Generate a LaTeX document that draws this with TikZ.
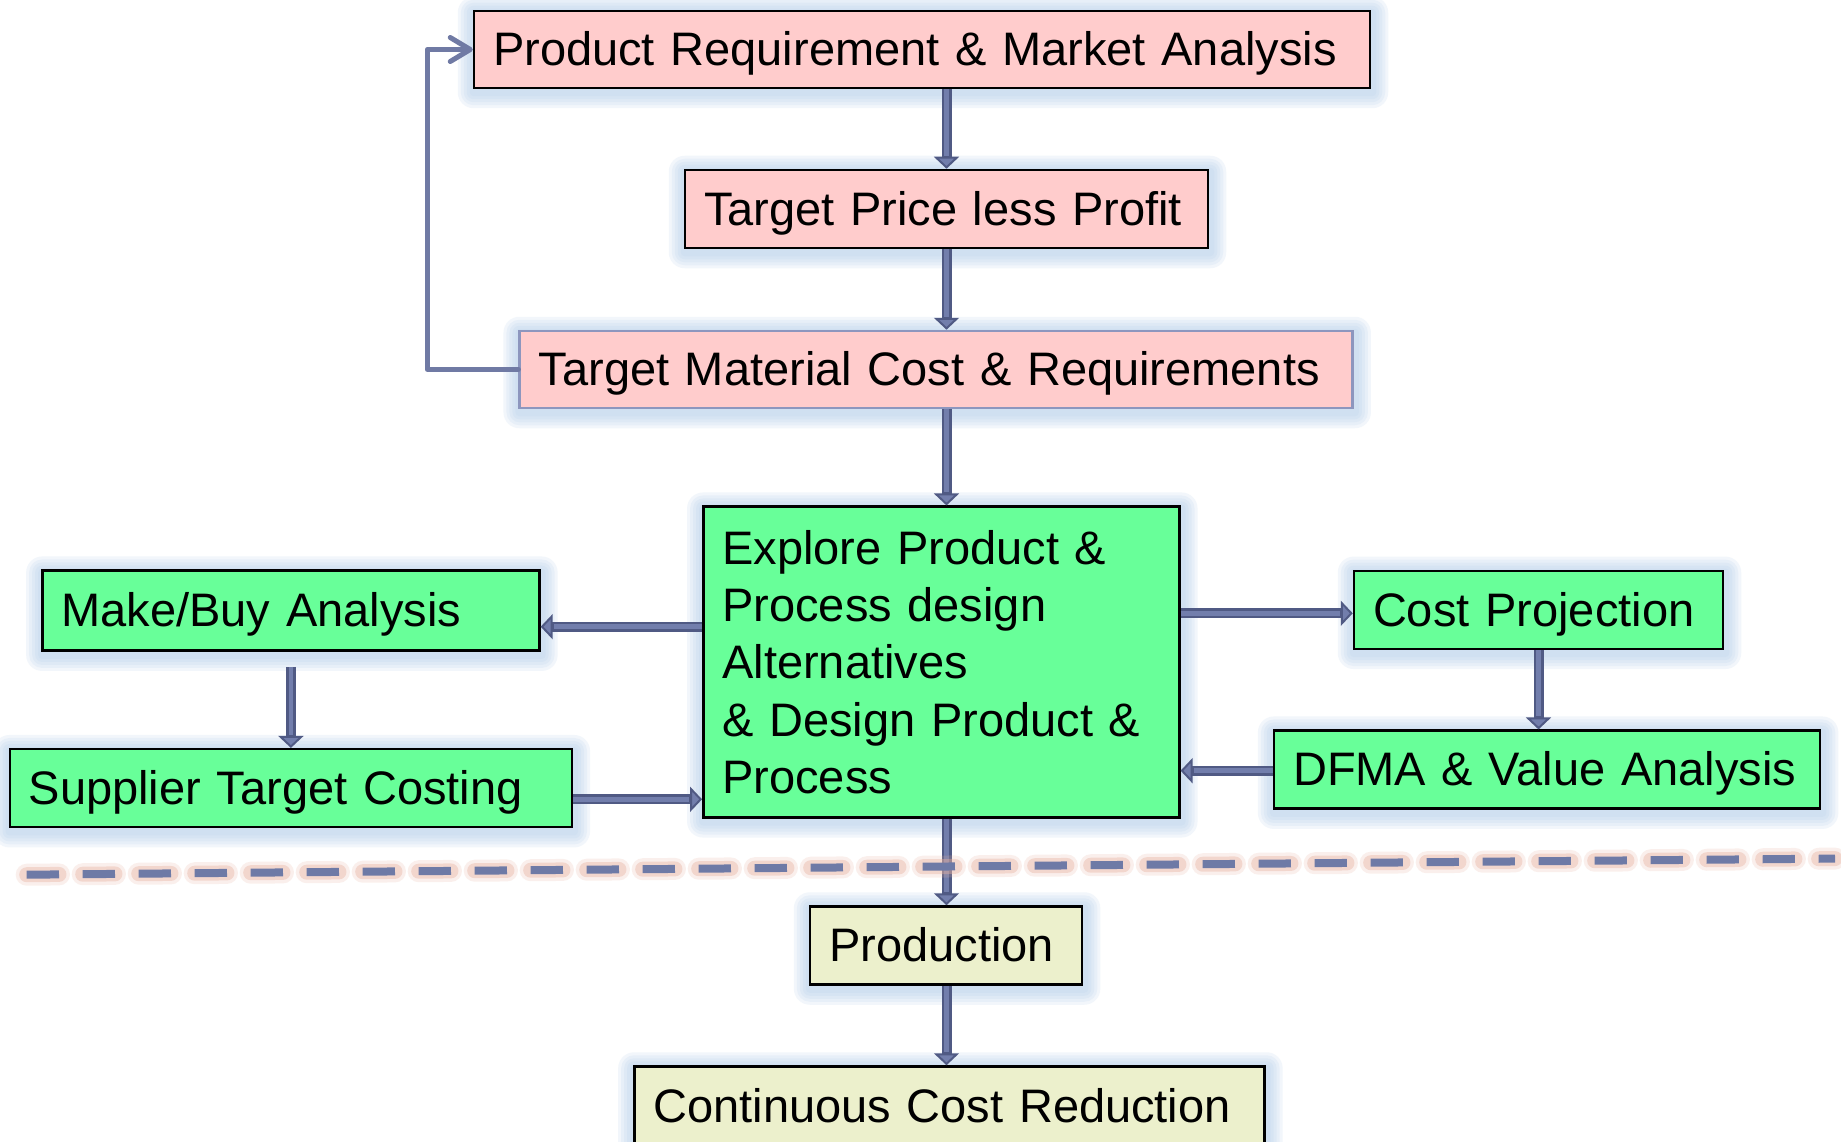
\documentclass[tikz,border=0pt]{standalone}
\usepackage{fontspec}
\setmainfont{Liberation Sans}
\usetikzlibrary{arrows.meta}

\definecolor{pinkfill}{RGB}{255,204,204}
\definecolor{greenfill}{RGB}{104,255,153}
\definecolor{creamfill}{RGB}{236,240,204}
\definecolor{softline}{RGB}{141,150,190}
\definecolor{arrowdark}{RGB}{80,90,132}
\definecolor{arrowlight}{RGB}{114,126,172}
\definecolor{loopline}{RGB}{112,122,164}
\definecolor{halo}{RGB}{180,206,234}
\definecolor{dashcore}{RGB}{110,122,166}
\definecolor{dashglow}{RGB}{232,178,160}

\pgfdeclarelayer{halo layer}
\pgfsetlayers{halo layer,main}

% soft light-blue glow behind a box
\newcommand\haloaround[1]{%
  \foreach \g in {16,13,10,7,4}{%
    \fill[halo, opacity=0.17, rounded corners=\g pt]
      ([xshift={(1-\g)*1pt}, yshift={(-3-\g)*1pt}]#1.south west) rectangle
      ([xshift={(1+\g)*1pt}, yshift={(\g-3)*1pt}]#1.north east);
  }%
}

\tikzset{
  stage/.style={draw=black, line width=2.5pt, inner xsep=19pt, inner ysep=0pt,
    align=left, font=\fontsize{47}{57.4}\selectfont},
  oneline/.style={text height=42.5pt, text depth=10pt},
  planbox/.style={stage, oneline, fill=pinkfill},
  designbox/.style={stage, fill=greenfill},
  prodbox/.style={stage, oneline, fill=creamfill},
  flow/.style={draw=arrowdark, line width=10pt,
    -{Triangle[length=12pt, width=25pt, line width=2pt, fill=arrowlight]},
    postaction={draw=arrowlight, line width=4.5pt, -, shorten >=13pt}},
  feedback/.style={draw=loopline, line width=5pt, line join=round, line cap=round,
    -{Straight Barb[length=20pt, width=24pt, round]}},
}

\begin{document}
\begin{tikzpicture}[x=1pt, y=-1pt]
  \useasboundingbox (0,0) rectangle (1841,1142);

  % planning chain
  \node[planbox, minimum width=896pt, minimum height=77pt, text width=858pt]
    (req) at (922,49.5) {\mbox{Product Requirement \& Market Analysis}};
  \node[planbox, minimum width=523pt, minimum height=78pt, text width=485pt]
    (price) at (946.5,209) {\mbox{Target Price less Profit}};
  \node[planbox, draw=softline, minimum width=833pt, minimum height=77pt, text width=795pt]
    (mat) at (936.2,369.5) {\mbox{Target Material Cost \& Requirements}};

  % design stage
  \node[designbox, minimum width=476pt, minimum height=310.6pt, text width=438pt]
    (explore) at (941.3,662) {Explore Product \&\\Process design\\Alternatives\\\& Design Product \&\\Process};
  \node[designbox, oneline, minimum width=497pt, minimum height=80pt, text width=459pt]
    (make) at (290.9,610.7) {\mbox{Make/Buy Analysis}};
  \node[designbox, oneline, minimum width=562pt, minimum height=78pt, text width=524pt]
    (supp) at (290.8,788.2) {\mbox{Supplier Target Costing}};
  \node[designbox, oneline, minimum width=369pt, minimum height=78pt, text width=331pt]
    (cost) at (1538.5,609.8) {\mbox{Cost Projection}};
  \node[designbox, oneline, minimum width=546pt, minimum height=78pt, text width=508pt]
    (dfma) at (1547.1,769.7) {\mbox{DFMA \& Value Analysis}};

  % production stage
  \node[prodbox, minimum width=272pt, minimum height=78pt, text width=234pt]
    (prod) at (946.1,945.5) {\mbox{Production}};
  \node[prodbox, minimum width=630pt, minimum height=80pt, text width=592pt]
    (ccr) at (949.4,1106.5) {\mbox{Continuous Cost Reduction}};

  \begin{pgfonlayer}{halo layer}
    \fill[white] (0,0) rectangle (1841,1142);
    \foreach \n in {req,price,mat,explore,make,supp,cost,dfma,prod,ccr}{\haloaround{\n}}
  \end{pgfonlayer}

  % connectors
  \coordinate (spine) at (946.5,0);
  \draw[flow] (req.south -| spine) -- (price.north -| spine);
  \draw[flow] (price.south -| spine) -- (mat.north -| spine);
  \draw[flow] (mat.south -| spine) -- (explore.north -| spine);
  \draw[flow] (explore.south -| spine) -- (prod.north -| spine);
  \draw[flow] (prod.south -| spine) -- (ccr.north -| spine);

  \coordinate (rowA) at (0,626.7);
  \coordinate (rowB) at (0,799.3);
  \coordinate (rowC) at (0,613.3);
  \coordinate (rowD) at (0,770.7);
  \draw[flow] (explore.west |- rowA) -- (make.east |- rowA);
  \draw[flow, shorten <=15pt] (make.south) -- (supp.north -| make.south);
  \draw[flow] (supp.east |- rowB) -- (explore.west |- rowB);
  \draw[flow] (explore.east |- rowC) -- (cost.west |- rowC);
  \draw[flow] (cost.south) -- (dfma.north -| cost.south);
  \draw[flow] (dfma.west |- rowD) -- (explore.east |- rowD);

  \coordinate (loopx) at (427.3,0);
  \draw[feedback] (mat.west) -| (loopx |- req.west) -- (req.west);

  % dashed divider between design and production
  \coordinate (cutL) at (26.7,874.7);
  \coordinate (cutR) at (1835,858.6);
  \draw[dashglow, opacity=0.2, line width=22pt, line cap=round,
        dash pattern=on 32.3pt off 23.7pt] (cutL) -- (cutR);
  \draw[dashglow, opacity=0.4, line width=15pt, line cap=round,
        dash pattern=on 32.3pt off 23.7pt] (cutL) -- (cutR);
  \draw[dashcore, line width=8pt, dash pattern=on 32.3pt off 23.7pt] (cutL) -- (cutR);
\end{tikzpicture}
\end{document}
